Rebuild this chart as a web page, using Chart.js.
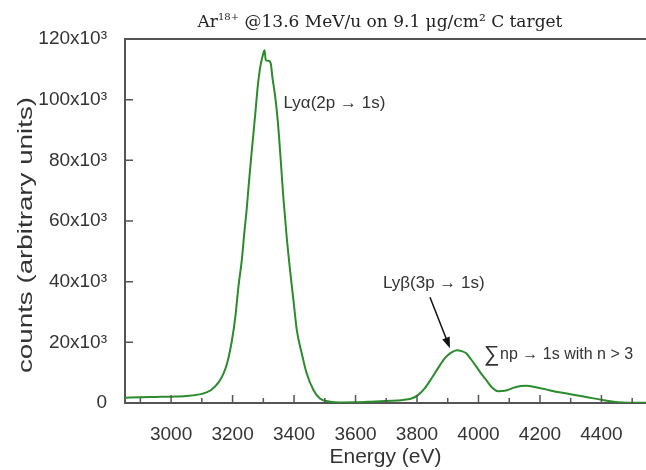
<!DOCTYPE html>
<html>
<head>
<meta charset="utf-8">
<title>Ar18+ X-ray spectrum</title>
<script src="https://cdn.jsdelivr.net/npm/chart.js@4.4.1/dist/chart.umd.min.js"></script>
<style>
  html, body { margin: 0; padding: 0; background: #fff; }
  #wrap { width: 646px; height: 470px; position: relative; }
</style>
</head>
<body>
<div id="wrap"><canvas id="spectrum"></canvas></div>
<script>
// measured spectrum: photon energy (eV) and counts
const energy = [
  2850, 2900, 2950, 3000, 3050, 3100, 3130, 3155, 3170, 3182,
  3198, 3209, 3219, 3230, 3238, 3246, 3253, 3260, 3267, 3274,
  3282, 3290, 3297, 3304, 3308, 3317, 3324, 3330, 3338, 3347,
  3356, 3365, 3376, 3387, 3398, 3409, 3425, 3441, 3463,
  3484, 3517, 3550, 3600, 3650, 3700, 3755, 3782, 3803, 3825,
  3847, 3868, 3890, 3911, 3930, 3945, 3960, 3975, 3993, 4010,
  4025, 4045, 4063, 4090, 4122, 4155, 4187, 4220, 4252, 4295,
  4350, 4403, 4440, 4468, 4500, 4545
];
const counts = [
  1750, 1900, 2000, 2100, 2300, 3000, 4300, 6900, 9600, 13000,
  20700, 28400, 38300, 47100, 55900, 64000, 72500, 80500, 88000, 95500,
  104500, 110800, 114100, 116300, 113000, 112800, 112000, 107000, 101500, 93000,
  81000, 68000, 54800, 43800, 33900, 24000, 16400, 9800, 4300,
  1500, 440, 200, 250, 450, 700, 1000, 1500, 2600, 4800,
  8100, 11400, 14700, 16600, 17400, 17100, 16400, 14500, 12000, 9500,
  7600, 5000, 3900, 4100, 5300, 5700, 5200, 4500, 3700, 3000,
  2000, 1000, 450, 200, 100, 100
];

const xMajorTicks = [3000, 3200, 3400, 3600, 3800, 4000, 4200, 4400];
const xMinorTicks = [2900, 3100, 3300, 3500, 3700, 3900, 4100, 4300, 4500];
const yMajorTicks = [0, 20000, 40000, 60000, 80000, 100000, 120000];

// peaks the annotations point at
const lyAlphaPeak = [3304, 116300];
const lyBetaPeak = [3930, 17400];
const highNHump = [4155, 5700];

const SANS = '"Liberation Sans", Arial, sans-serif';
const SERIF = '"DejaVu Serif", "Liberation Serif", serif';
const TEXT = '#333';
const AXIS = '#555';

// draws a row of differently styled text runs, centred on cx
function drawRuns(ctx, runs, cx, baseline) {
  let total = 0;
  runs.forEach(r => { ctx.font = r.font; r.w = ctx.measureText(r.text).width; total += r.w; });
  let x = cx - total / 2;
  ctx.textBaseline = 'alphabetic';
  ctx.textAlign = 'left';
  runs.forEach(r => {
    ctx.font = r.font;
    ctx.fillText(r.text, x, baseline + (r.dy || 0));
    x += r.w;
  });
}

const decorations = {
  id: 'decorations',
  afterDraw(chart) {
    const { ctx, chartArea: a, scales: { x, y } } = chart;
    ctx.save();

    // frame top line
    ctx.strokeStyle = AXIS;
    ctx.lineWidth = 2;
    ctx.beginPath();
    ctx.moveTo(a.left - 1, a.top);
    ctx.lineTo(a.right, a.top);
    ctx.stroke();

    // inward tick marks
    ctx.lineWidth = 1.5;
    ctx.beginPath();
    xMajorTicks.forEach(v => { const p = x.getPixelForValue(v); ctx.moveTo(p, a.bottom); ctx.lineTo(p, a.bottom - 8); });
    xMinorTicks.forEach(v => { const p = x.getPixelForValue(v); ctx.moveTo(p, a.bottom); ctx.lineTo(p, a.bottom - 5); });
    yMajorTicks.forEach(v => { const p = y.getPixelForValue(v); ctx.moveTo(a.left, p); ctx.lineTo(a.left + 8, p); });
    ctx.stroke();

    // title
    ctx.fillStyle = '#222';
    drawRuns(ctx, [
      { text: 'Ar', font: '17px ' + SERIF },
      { text: '18+', font: '10px ' + SERIF, dy: -7 },
      { text: ' @13.6 MeV/u on 9.1 μg/cm² C target', font: '17px ' + SERIF }
    ], 380, 27);

    // y axis title, stretched along its length
    ctx.fillStyle = TEXT;
    ctx.font = '20px ' + SANS;
    const yLabel = 'counts (arbitrary units)';
    const natural = ctx.measureText(yLabel).width;
    ctx.translate(26, 235);
    ctx.rotate(-Math.PI / 2);
    ctx.scale(276 / natural, 1);
    ctx.textAlign = 'center';
    ctx.textBaseline = 'middle';
    ctx.fillText(yLabel, 0, 0);
    ctx.setTransform(1, 0, 0, 1, 0, 0);

    // peak annotations
    ctx.fillStyle = TEXT;
    ctx.textAlign = 'left';
    ctx.textBaseline = 'middle';
    const ax = x.getPixelForValue(lyAlphaPeak[0]);
    const ay = y.getPixelForValue(lyAlphaPeak[1]);
    ctx.font = '17px ' + SANS;
    ctx.fillText('Lyα(2p → 1s)', ax + 19, ay + 53);

    const bx = x.getPixelForValue(lyBetaPeak[0]);
    const by = y.getPixelForValue(lyBetaPeak[1]);
    ctx.fillText('Lyβ(3p → 1s)', bx - 74, by - 67);

    // arrow onto the Ly-beta peak
    const tipX = bx - 7, tipY = by - 2;
    const tailX = bx - 27, tailY = by - 53;
    const ang = Math.atan2(tipY - tailY, tipX - tailX);
    ctx.strokeStyle = '#111';
    ctx.fillStyle = '#111';
    ctx.lineWidth = 1.5;
    ctx.beginPath();
    ctx.moveTo(tailX, tailY);
    ctx.lineTo(tipX - 8 * Math.cos(ang), tipY - 8 * Math.sin(ang));
    ctx.stroke();
    ctx.beginPath();
    ctx.moveTo(tipX, tipY);
    ctx.lineTo(tipX - 11 * Math.cos(ang) + 4 * Math.sin(ang), tipY - 11 * Math.sin(ang) - 4 * Math.cos(ang));
    ctx.lineTo(tipX - 11 * Math.cos(ang) - 4 * Math.sin(ang), tipY - 11 * Math.sin(ang) + 4 * Math.cos(ang));
    ctx.closePath();
    ctx.fill();

    const hx = x.getPixelForValue(highNHump[0]);
    const hy = y.getPixelForValue(highNHump[1]);
    ctx.fillStyle = TEXT;
    ctx.font = '22px ' + SANS;
    ctx.fillText('∑', hx - 42, hy - 31);
    ctx.font = '16px ' + SANS;
    ctx.fillText('np → 1s with n > 3', hx - 26, hy - 31);

    ctx.restore();
  }
};

new Chart(document.getElementById('spectrum'), {
  type: 'line',
  data: {
    datasets: [{
      data: energy.map((e, i) => ({ x: e, y: counts[i] })),
      borderColor: '#2b8c2b',
      borderWidth: 2,
      pointRadius: 0,
      cubicInterpolationMode: 'monotone',
      fill: false
    }]
  },
  options: {
    responsive: true,
    maintainAspectRatio: false,
    animation: false,
    layout: { padding: { top: 39, left: 0, right: 0, bottom: 0 } },
    plugins: { legend: { display: false }, tooltip: { enabled: false } },
    scales: {
      x: {
        type: 'linear',
        min: 2850,
        max: 4545,
        afterBuildTicks: s => { s.ticks = xMajorTicks.map(v => ({ value: v })); },
        afterFit: s => { s.height = 67; },
        grid: { display: false },
        border: { display: true, color: AXIS, width: 2 },
        ticks: {
          autoSkip: false,
          maxRotation: 0,
          padding: 12,
          color: TEXT,
          font: { family: SANS, size: 19 },
          callback: v => String(v)
        },
        title: {
          display: true,
          text: 'Energy (eV)',
          color: TEXT,
          font: { family: SANS, size: 21 },
          padding: { top: 2, bottom: 0 }
        }
      },
      y: {
        min: 0,
        max: 120000,
        afterBuildTicks: s => { s.ticks = yMajorTicks.map(v => ({ value: v })); },
        afterFit: s => { s.width = 125; },
        grid: { display: false },
        border: { display: true, color: AXIS, width: 2 },
        ticks: {
          padding: 10,
          color: TEXT,
          font: { family: SANS, size: 19 },
          callback: v => v === 0 ? '0' : (v / 1000) + 'x10³'
        }
      }
    }
  },
  plugins: [decorations]
});
</script>
</body>
</html>
